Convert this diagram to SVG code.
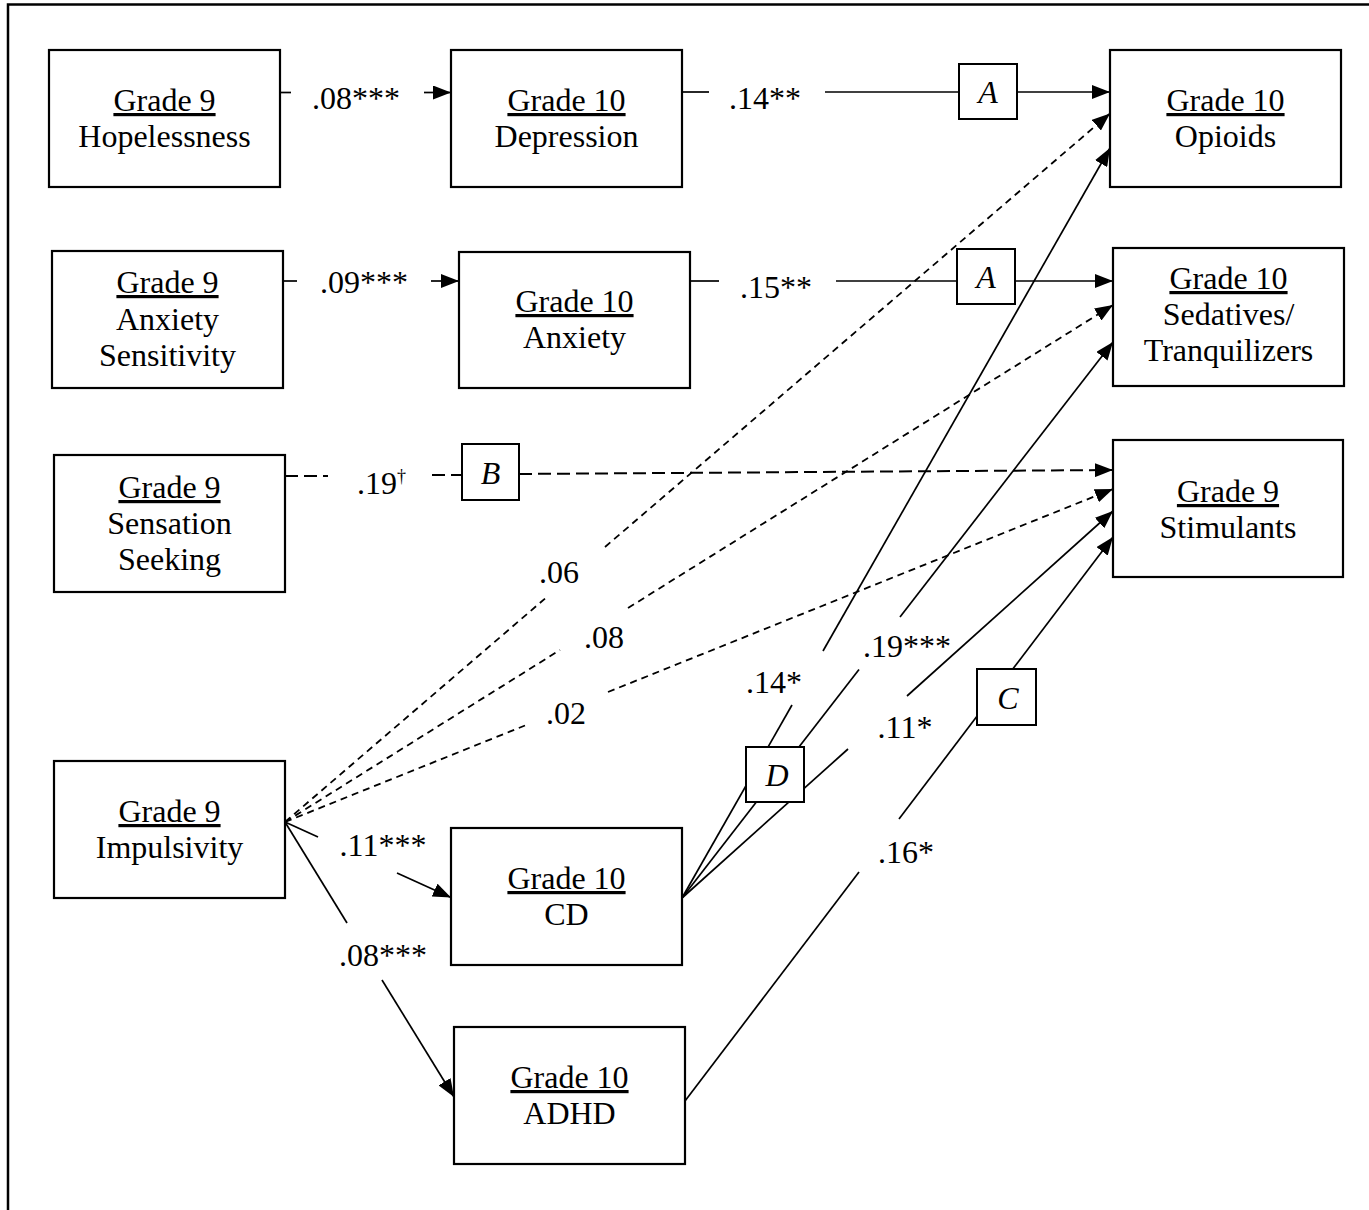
<svg xmlns="http://www.w3.org/2000/svg" width="1369" height="1210" viewBox="0 0 1369 1210">
<defs>
<marker id="arr" viewBox="0 0 18 14" refX="18" refY="7" markerWidth="18" markerHeight="14" markerUnits="userSpaceOnUse" orient="auto">
<path d="M0,0 L18,7 L0,14 z" fill="#000"/>
</marker>
<style>
text{font-family:"Liberation Serif","Times New Roman",serif;font-size:32px;fill:#000;text-anchor:middle}
.u{text-decoration:underline}
.box{fill:#fff;stroke:#000;stroke-width:2.2}
.sm{fill:#fff;stroke:#000;stroke-width:2}
.it{font-style:italic}
.ln{stroke:#000;stroke-width:1.7;fill:none}
.dt{stroke:#000;stroke-width:1.8;fill:none;stroke-dasharray:7 5}
.ds{stroke:#000;stroke-width:2;fill:none;stroke-dasharray:13 6}
.lbl{text-anchor:start}
</style>
</defs>
<rect width="1369" height="1210" fill="#fff"/>
<path d="M8,1210 V4.5 H1369" fill="none" stroke="#000" stroke-width="2.5"/>

<g id="connectors">
<line class="ln" x1="280" y1="92.5" x2="291" y2="92.5"/>
<line class="ln" x1="424" y1="92.5" x2="451" y2="92.5" marker-end="url(#arr)"/>
<line class="ln" x1="682" y1="92" x2="709" y2="92"/>
<line class="ln" x1="825" y1="92" x2="959" y2="92"/>
<line class="ln" x1="1017" y1="92" x2="1110" y2="92" marker-end="url(#arr)"/>
<line class="ln" x1="283" y1="281" x2="297" y2="281"/>
<line class="ln" x1="431" y1="281" x2="459" y2="281" marker-end="url(#arr)"/>
<line class="ln" x1="690" y1="281" x2="719" y2="281"/>
<line class="ln" x1="836" y1="281" x2="957" y2="281"/>
<line class="ln" x1="1015" y1="281" x2="1113" y2="281" marker-end="url(#arr)"/>
<line class="ds" x1="285" y1="476" x2="328" y2="476"/>
<line class="ds" x1="432" y1="475" x2="462" y2="475"/>
<line class="ds" x1="519" y1="474" x2="1113" y2="470" marker-end="url(#arr)"/>
<line class="dt" x1="285" y1="822" x2="545" y2="598.6"/>
<line class="dt" x1="605" y1="547" x2="1110" y2="113.5" marker-end="url(#arr)"/>
<line class="dt" x1="285" y1="822" x2="560" y2="650"/>
<line class="dt" x1="628" y1="608" x2="1113" y2="305" marker-end="url(#arr)"/>
<line class="dt" x1="285" y1="822" x2="525" y2="725.5"/>
<line class="dt" x1="608" y1="692" x2="1113" y2="489" marker-end="url(#arr)"/>
<line class="ln" x1="285" y1="822" x2="318" y2="837"/>
<line class="ln" x1="397" y1="873" x2="451" y2="897.5" marker-end="url(#arr)"/>
<line class="ln" x1="285" y1="822" x2="347" y2="923"/>
<line class="ln" x1="382" y1="980" x2="454" y2="1097" marker-end="url(#arr)"/>
<line class="ln" x1="682" y1="898" x2="792" y2="705"/>
<line class="ln" x1="823" y1="651" x2="1110" y2="148" marker-end="url(#arr)"/>
<line class="ln" x1="682" y1="898" x2="859" y2="669.5"/>
<line class="ln" x1="900" y1="617" x2="1113" y2="342" marker-end="url(#arr)"/>
<line class="ln" x1="682" y1="898" x2="848" y2="749"/>
<line class="ln" x1="907" y1="696" x2="1113" y2="511" marker-end="url(#arr)"/>
<line class="ln" x1="685" y1="1101" x2="859" y2="872"/>
<line class="ln" x1="899" y1="819" x2="1113" y2="537" marker-end="url(#arr)"/>

<g id="labels">
<text x="356" y="109">.08***</text>
<text x="765" y="109">.14**</text>
<text x="364" y="293">.09***</text>
<text x="776" y="298">.15**</text>
<text class="lbl" x="357" y="494">.19<tspan font-size="18" dy="-12">†</tspan></text>
<text x="559" y="583">.06</text>
<text x="604" y="648">.08</text>
<text x="566" y="724">.02</text>
<text x="383" y="856">.11***</text>
<text x="383" y="966">.08***</text>
<text x="774" y="693">.14*</text>
<text x="907" y="657">.19***</text>
<text x="905" y="738">.11*</text>
<text x="906" y="863">.16*</text>
</g>
</g>

<g id="moderator-A1"><rect class="sm" x="959" y="64" width="58" height="55"/><text class="it" x="988" y="103">A</text></g>
<g id="moderator-A2"><rect class="sm" x="957" y="249" width="58" height="55"/><text class="it" x="986" y="288">A</text></g>
<g id="moderator-B"><rect class="sm" x="462" y="444" width="57" height="56"/><text class="it" x="490.5" y="484">B</text></g>
<g id="moderator-C"><rect class="sm" x="977" y="669" width="59" height="56"/><text class="it" x="1008" y="709">C</text></g>
<g id="moderator-D"><rect class="sm" x="746" y="747" width="58" height="55"/><text class="it" x="777" y="786">D</text></g>

<g id="g9-hopelessness"><rect class="box" x="49" y="50" width="231" height="137"/><text class="u" x="164.5" y="111">Grade 9</text><text x="164.5" y="147">Hopelessness</text></g>
<g id="g10-depression"><rect class="box" x="451" y="50" width="231" height="137"/><text class="u" x="566.5" y="111">Grade 10</text><text x="566.5" y="147">Depression</text></g>
<g id="g10-opioids"><rect class="box" x="1110" y="50" width="231" height="137"/><text class="u" x="1225.5" y="111">Grade 10</text><text x="1225.5" y="147">Opioids</text></g>

<g id="g9-anxiety-sensitivity"><rect class="box" x="52" y="251" width="231" height="137"/><text class="u" x="167.5" y="293">Grade 9</text><text x="167.5" y="330">Anxiety</text><text x="167.5" y="366">Sensitivity</text></g>
<g id="g10-anxiety"><rect class="box" x="459" y="252" width="231" height="136"/><text class="u" x="574.5" y="312">Grade 10</text><text x="574.5" y="348">Anxiety</text></g>
<g id="g10-sedatives"><rect class="box" x="1113" y="248" width="231" height="138"/><text class="u" x="1228.5" y="289">Grade 10</text><text x="1228.5" y="325">Sedatives/</text><text x="1228.5" y="361">Tranquilizers</text></g>

<g id="g9-sensation-seeking"><rect class="box" x="54" y="455" width="231" height="137"/><text class="u" x="169.5" y="498">Grade 9</text><text x="169.5" y="534">Sensation</text><text x="169.5" y="570">Seeking</text></g>
<g id="g9-stimulants"><rect class="box" x="1113" y="440" width="230" height="137"/><text class="u" x="1228" y="502">Grade 9</text><text x="1228" y="538">Stimulants</text></g>

<g id="g9-impulsivity"><rect class="box" x="54" y="761" width="231" height="137"/><text class="u" x="169.5" y="822">Grade 9</text><text x="169.5" y="858">Impulsivity</text></g>
<g id="g10-cd"><rect class="box" x="451" y="828" width="231" height="137"/><text class="u" x="566.5" y="889">Grade 10</text><text x="566.5" y="925">CD</text></g>
<g id="g10-adhd"><rect class="box" x="454" y="1027" width="231" height="137"/><text class="u" x="569.5" y="1088">Grade 10</text><text x="569.5" y="1124">ADHD</text></g>
</svg>
